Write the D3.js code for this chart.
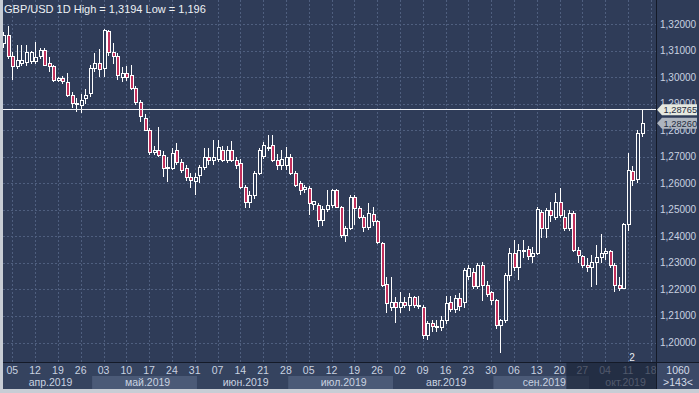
<!DOCTYPE html>
<html>
<head>
<meta charset="utf-8">
<script src="https://cdn.jsdelivr.net/npm/d3@7"></script>
<style>
html, body { margin: 0; padding: 0; background: #c8cdd5; }
svg { display: block; font-family: "Liberation Sans", Arial, sans-serif; }
</style>
</head>
<body>
<svg id="chart"></svg>
<script>
// GBP/USD daily, 03.04.2019 - 16.10.2019 (one value per trading day)
const open = [
  1.3125, 1.3158, 1.3077,
  1.3038, 1.3052, 1.3055, 1.3060, 1.3057,
  1.3079, 1.3102, 1.3053, 1.3038, 1.2989,
  1.2995, 1.2981, 1.2932, 1.2900, 1.2894,
  1.2921, 1.2940, 1.3034, 1.3053, 1.3034,
  1.3170, 1.3094, 1.3077, 1.3000, 1.3015,
  1.3007, 1.2958, 1.2906, 1.2845, 1.2800,
  1.2717, 1.2725, 1.2706, 1.2657, 1.2657,
  1.2725, 1.2679, 1.2657, 1.2623, 1.2608,
  1.2630, 1.2660, 1.2698, 1.2687, 1.2690,
  1.2725, 1.2687, 1.2725, 1.2687, 1.2675,
  1.2585, 1.2528, 1.2555, 1.2638, 1.2700,
  1.2733, 1.2743, 1.2687, 1.2668, 1.2668,
  1.2698, 1.2638, 1.2600, 1.2577, 1.2581,
  1.2521, 1.2517, 1.2460, 1.2502, 1.2517,
  1.2574, 1.2510, 1.2404, 1.2430, 1.2547,
  1.2506, 1.2472, 1.2434, 1.2483, 1.2457,
  1.2374, 1.2219, 1.2130, 1.2151, 1.2130,
  1.2151, 1.2140, 1.2170, 1.2140, 1.2132,
  1.2026, 1.2072, 1.2060, 1.2057, 1.2083,
  1.2151, 1.2125, 1.2166, 1.2150, 1.2250,
  1.2262, 1.2210, 1.2290, 1.2213, 1.2187,
  1.2158, 1.2064, 1.2083, 1.2253, 1.2336,
  1.2283, 1.2343, 1.2351, 1.2325, 1.2336,
  1.2491, 1.2430, 1.2498, 1.2472, 1.2528,
  1.2472, 1.2430, 1.2487, 1.2347, 1.2325,
  1.2290, 1.2283, 1.2302, 1.2321, 1.2336,
  1.2343, 1.2291, 1.2215, 1.2204, 1.2445,
  1.2645, 1.2615, 1.2788
];
const high = [
  1.3170, 1.3194, 1.3095,
  1.3121, 1.3120, 1.3121, 1.3100, 1.3132,
  1.3110, 1.3110, 1.3075, 1.3045, 1.3000,
  1.3005, 1.3015, 1.2945, 1.2920, 1.2935,
  1.2955, 1.3045, 1.3090, 1.3105, 1.3180,
  1.3176, 1.3130, 1.3090, 1.3038, 1.3040,
  1.3045, 1.2965, 1.2915, 1.2860, 1.2810,
  1.2740, 1.2811, 1.2720, 1.2700, 1.2732,
  1.2751, 1.2690, 1.2670, 1.2640, 1.2640,
  1.2670, 1.2732, 1.2732, 1.2762, 1.2762,
  1.2740, 1.2740, 1.2758, 1.2700, 1.2690,
  1.2595, 1.2570, 1.2645, 1.2732, 1.2755,
  1.2781, 1.2781, 1.2710, 1.2725, 1.2736,
  1.2710, 1.2645, 1.2610, 1.2595, 1.2590,
  1.2535, 1.2525, 1.2515, 1.2574, 1.2580,
  1.2580, 1.2515, 1.2440, 1.2555, 1.2555,
  1.2515, 1.2480, 1.2525, 1.2510, 1.2460,
  1.2380, 1.2245, 1.2245, 1.2170, 1.2190,
  1.2170, 1.2185, 1.2175, 1.2175, 1.2140,
  1.2080, 1.2085, 1.2085, 1.2100, 1.2177,
  1.2177, 1.2180, 1.2185, 1.2282, 1.2291,
  1.2280, 1.2300, 1.2305, 1.2230, 1.2195,
  1.2165, 1.2090, 1.2260, 1.2355, 1.2385,
  1.2370, 1.2385, 1.2365, 1.2360, 1.2510,
  1.2500, 1.2505, 1.2530, 1.2562, 1.2581,
  1.2500, 1.2500, 1.2495, 1.2360, 1.2330,
  1.2320, 1.2330, 1.2366, 1.2410, 1.2355,
  1.2350, 1.2300, 1.2245, 1.2450, 1.2713,
  1.2665, 1.2800, 1.2876
];
const low = [
  1.3110, 1.3070, 1.2990,
  1.3030, 1.3040, 1.3040, 1.3050, 1.3050,
  1.3070, 1.3040, 1.3020, 1.2980, 1.2980,
  1.2975, 1.2925, 1.2885, 1.2868, 1.2865,
  1.2900, 1.2925, 1.3020, 1.3000, 1.3000,
  1.3080, 1.3050, 1.2990, 1.2980, 1.2985,
  1.2950, 1.2895, 1.2830, 1.2795, 1.2705,
  1.2705, 1.2700, 1.2623, 1.2604, 1.2650,
  1.2670, 1.2640, 1.2610, 1.2581, 1.2555,
  1.2600, 1.2650, 1.2670, 1.2670, 1.2680,
  1.2680, 1.2675, 1.2680, 1.2655, 1.2580,
  1.2506, 1.2505, 1.2540, 1.2630, 1.2690,
  1.2720, 1.2680, 1.2650, 1.2650, 1.2650,
  1.2630, 1.2585, 1.2555, 1.2565, 1.2479,
  1.2500, 1.2434, 1.2440, 1.2490, 1.2505,
  1.2505, 1.2392, 1.2380, 1.2425, 1.2442,
  1.2465, 1.2415, 1.2425, 1.2440, 1.2370,
  1.2210, 1.2113, 1.2120, 1.2075, 1.2110,
  1.2130, 1.2120, 1.2130, 1.2125, 1.2015,
  1.2010, 1.2040, 1.2040, 1.2045, 1.2070,
  1.2115, 1.2110, 1.2120, 1.2130, 1.2235,
  1.2200, 1.2200, 1.2155, 1.2170, 1.2140,
  1.2050, 1.1960, 1.2075, 1.2230, 1.2270,
  1.2234, 1.2320, 1.2310, 1.2300, 1.2330,
  1.2392, 1.2392, 1.2455, 1.2460, 1.2470,
  1.2420, 1.2420, 1.2340, 1.2300, 1.2280,
  1.2265, 1.2208, 1.2215, 1.2300, 1.2310,
  1.2280, 1.2189, 1.2195, 1.2200, 1.2420,
  1.2590, 1.2600, 1.2775
];
const close = [
  1.3158, 1.3077, 1.3040,
  1.3064, 1.3061, 1.3094, 1.3092, 1.3072,
  1.3102, 1.3045, 1.3038, 1.2989, 1.2995,
  1.2982, 1.2932, 1.2900, 1.2897, 1.2913,
  1.2932, 1.3034, 1.3053, 1.3030, 1.3177,
  1.3094, 1.3077, 1.3007, 1.3015, 1.3000,
  1.2958, 1.2906, 1.2850, 1.2800, 1.2717,
  1.2723, 1.2706, 1.2657, 1.2660, 1.2713,
  1.2679, 1.2649, 1.2623, 1.2611, 1.2623,
  1.2660, 1.2698, 1.2687, 1.2698, 1.2736,
  1.2687, 1.2725, 1.2687, 1.2668, 1.2585,
  1.2528, 1.2555, 1.2638, 1.2725, 1.2743,
  1.2736, 1.2687, 1.2668, 1.2690, 1.2698,
  1.2638, 1.2593, 1.2574, 1.2585, 1.2525,
  1.2530, 1.2460, 1.2502, 1.2517, 1.2574,
  1.2510, 1.2404, 1.2430, 1.2547, 1.2506,
  1.2472, 1.2434, 1.2487, 1.2457, 1.2377,
  1.2215, 1.2147, 1.2151, 1.2130, 1.2151,
  1.2140, 1.2170, 1.2140, 1.2135, 1.2026,
  1.2072, 1.2060, 1.2057, 1.2083, 1.2147,
  1.2125, 1.2166, 1.2135, 1.2270, 1.2280,
  1.2210, 1.2290, 1.2213, 1.2179, 1.2158,
  1.2064, 1.2083, 1.2253, 1.2336, 1.2283,
  1.2347, 1.2345, 1.2325, 1.2336, 1.2502,
  1.2430, 1.2498, 1.2480, 1.2528, 1.2479,
  1.2430, 1.2487, 1.2347, 1.2328, 1.2291,
  1.2283, 1.2302, 1.2321, 1.2336, 1.2343,
  1.2291, 1.2215, 1.2204, 1.2445, 1.2649,
  1.2611, 1.2788, 1.2826
];

const priceTicks = [1.20, 1.21, 1.22, 1.23, 1.24, 1.25, 1.26, 1.27, 1.28, 1.29, 1.30, 1.31, 1.32];
const dayLabels = ["05","12","19","26","03","10","17","24","31","07","14","21","28",
                   "05","12","19","26","02","09","16","23","30","06","13","20","27","04","11","18"];
const monthLabels = ["апр.2019","май.2019","июн.2019","июл.2019","авг.2019","сен.2019","окт.2019"];
const lastPrice = 1.28765;
const markPrice = 1.28260;
const title = "GBP/USD 1D High = 1,3194 Low = 1,196";

const W = 699, H = 393;
const plot = { left: 3, right: 656, top: 0, bottom: 362 };
const axisRow = { top: 362, mid: 376, bottom: 389 };

const fmtKey = d3.timeFormat("%Y-%m-%d");
// trading calendar (weekdays) for the visible window, incl. two empty days at the end
const days = d3.timeDay.range(new Date(2019, 3, 3), new Date(2019, 9, 19))
  .filter(d => d.getDay() % 6 !== 0);

const candles = open.map((o, i) => ({
  date: days[i], o: o, h: high[i], l: low[i], c: close[i]
}));

const x = d3.scalePoint()
  .domain(days.map(fmtKey))
  .range([3.2, 650.7]);
const step = x.step();

const y = d3.scaleLinear()
  .domain([1.20, 1.32])
  .range([342.5, 24]);

const locale = d3.formatLocale({ decimal: ",", thousands: " ", grouping: [3], currency: ["", ""] });
const f5 = locale.format(".5f");

const svg = d3.select("#chart").attr("width", W).attr("height", H);

// frame + backgrounds
svg.append("rect").attr("width", W).attr("height", H).attr("fill", "#c8cdd5");
svg.append("rect").attr("x", plot.left).attr("y", 0)
  .attr("width", W - plot.left).attr("height", axisRow.bottom).attr("fill", "#2f3c58");
svg.append("rect").attr("x", plot.left).attr("y", axisRow.top)
  .attr("width", plot.right - plot.left).attr("height", axisRow.bottom - axisRow.top)
  .attr("fill", "#35435f");

// month bands
const fridays = days.filter(d => d.getDay() === 5);
const monthStarts = [];
days.forEach((d, i) => {
  if (i === 0 || d.getMonth() !== days[i - 1].getMonth()) monthStarts.push(d);
});
const bands = monthStarts.map((d, i) => {
  const x0 = i === 0 ? plot.left : x(fmtKey(d)) - step / 2;
  const x1 = i === monthStarts.length - 1 ? plot.right : x(fmtKey(monthStarts[i + 1])) - step / 2;
  return { x0: x0, x1: x1, label: monthLabels[i], light: i % 2 === 1 };
});

svg.append("g").selectAll("rect")
  .data(bands).enter().append("rect")
  .attr("x", d => d.x0).attr("y", axisRow.mid)
  .attr("width", d => d.x1 - d.x0).attr("height", axisRow.bottom - axisRow.mid)
  .attr("fill", d => d.light ? "#4b5a77" : "#35435f");

svg.append("g").selectAll("text")
  .data(bands).enter().append("text")
  .attr("x", d => (d.x0 + d.x1) / 2 + 3).attr("y", 385.5)
  .attr("text-anchor", "middle")
  .attr("font-size", 10.5).attr("fill", "#c9d2e0")
  .text(d => d.label);

// grid
const grid = svg.append("g").attr("stroke", "#4f5f7f").attr("stroke-width", 1)
  .attr("stroke-dasharray", "2,2").attr("shape-rendering", "crispEdges");
grid.selectAll(".h").data(priceTicks).enter().append("line")
  .attr("x1", plot.left).attr("x2", plot.right)
  .attr("y1", d => Math.round(y(d)) + 0.5).attr("y2", d => Math.round(y(d)) + 0.5);
grid.selectAll(".v").data(fridays).enter().append("line")
  .attr("x1", d => Math.round(x(fmtKey(d))) + 0.5).attr("x2", d => Math.round(x(fmtKey(d))) + 0.5)
  .attr("y1", 0).attr("y2", plot.bottom);

// x axis day labels
svg.append("g").selectAll("text")
  .data(fridays).enter().append("text")
  .attr("x", d => x(fmtKey(d))).attr("y", 373.5)
  .attr("text-anchor", "middle")
  .attr("font-size", 10.5).attr("fill", "#c9d2e0")
  .text((d, i) => dayLabels[i]);

// dim overlay at the end of the time axis
const dimStart = x("2019-09-24") - step / 2;
svg.append("rect").attr("x", dimStart).attr("y", axisRow.top)
  .attr("width", plot.right - dimStart).attr("height", axisRow.bottom - axisRow.top)
  .attr("fill", "#1d2539").attr("opacity", 0.7);

// separators
svg.append("line").attr("x1", plot.left).attr("x2", W).attr("y1", plot.bottom + 0.5).attr("y2", plot.bottom + 0.5)
  .attr("stroke", "#141a28").attr("shape-rendering", "crispEdges");
svg.append("line").attr("x1", plot.right + 0.5).attr("x2", plot.right + 0.5).attr("y1", 0).attr("y2", axisRow.bottom)
  .attr("stroke", "#141a28").attr("shape-rendering", "crispEdges");

// corner box
svg.append("rect").attr("x", plot.right + 1).attr("y", axisRow.top + 1)
  .attr("width", W - plot.right - 1).attr("height", axisRow.bottom - axisRow.top - 1)
  .attr("fill", "#3b4967");
svg.append("text").attr("x", 678).attr("y", 374).attr("text-anchor", "middle")
  .attr("font-size", 10.5).attr("fill", "#d5dce8").text("1060");
svg.append("text").attr("x", 678).attr("y", 386).attr("text-anchor", "middle")
  .attr("font-size", 10.5).attr("fill", "#d5dce8").text(">143<");

// y axis labels (the two under the price tags are mostly hidden, as in the terminal)
svg.append("g").selectAll("text")
  .data(priceTicks).enter().append("text")
  .attr("x", 660).attr("y", d => y(d) + 3.5)
  .attr("font-size", 10).attr("fill", "#c9d2e0")
  .text(d => f5(d));

// candles
const g = svg.append("g").attr("shape-rendering", "crispEdges");
const cx = d => Math.round(x(fmtKey(d.date)));
g.selectAll(".wick").data(candles).enter().append("line")
  .attr("x1", d => cx(d) + 0.5).attr("x2", d => cx(d) + 0.5)
  .attr("y1", d => y(d.h)).attr("y2", d => y(d.l))
  .attr("stroke", "#ffffff");
g.selectAll(".body").data(candles).enter().append("rect")
  .attr("x", d => cx(d) - 1)
  .attr("y", d => y(Math.max(d.o, d.c)))
  .attr("width", 3)
  .attr("height", d => Math.max(1, Math.abs(y(d.o) - y(d.c))))
  .attr("fill", d => d.c >= d.o ? "#2f3c58" : "#c2305c")
  .attr("stroke", "#ffffff").attr("stroke-width", 1);

// cover candles spilling left of plot
svg.append("rect").attr("x", 0).attr("y", 0).attr("width", plot.left).attr("height", H).attr("fill", "#c8cdd5");

// last price line
svg.append("line").attr("x1", plot.left).attr("x2", plot.right)
  .attr("y1", Math.round(y(lastPrice)) - 0.5).attr("y2", Math.round(y(lastPrice)) - 0.5)
  .attr("stroke", "#f2f4f7").attr("stroke-width", 1).attr("shape-rendering", "crispEdges");

// price tags
function tag(price, fill) {
  const yy = y(price);
  const t = svg.append("g");
  t.append("path")
    .attr("d", `M${plot.right + 1},${yy} L${plot.right + 6},${yy - 5.5} L${W - 2},${yy - 5.5} L${W - 2},${yy + 5.5} L${plot.right + 6},${yy + 5.5} Z`)
    .attr("fill", fill);
  t.append("text").attr("x", 663.5).attr("y", yy + 3.3)
    .attr("font-size", 9.3).attr("fill", "#1f2b40").text(f5(price));
}
tag(lastPrice, "#e6e9e0");
tag(markPrice, "#aeb5bf");

// small marker under the candles
svg.append("text").attr("x", 632).attr("y", 361).attr("text-anchor", "middle")
  .attr("font-size", 10).attr("fill", "#e8ecf2").text("2");

// title
svg.append("text").attr("x", 4).attr("y", 12.5)
  .attr("font-size", 11).attr("fill", "#eef1f5").text(title);
</script>
</body>
</html>
